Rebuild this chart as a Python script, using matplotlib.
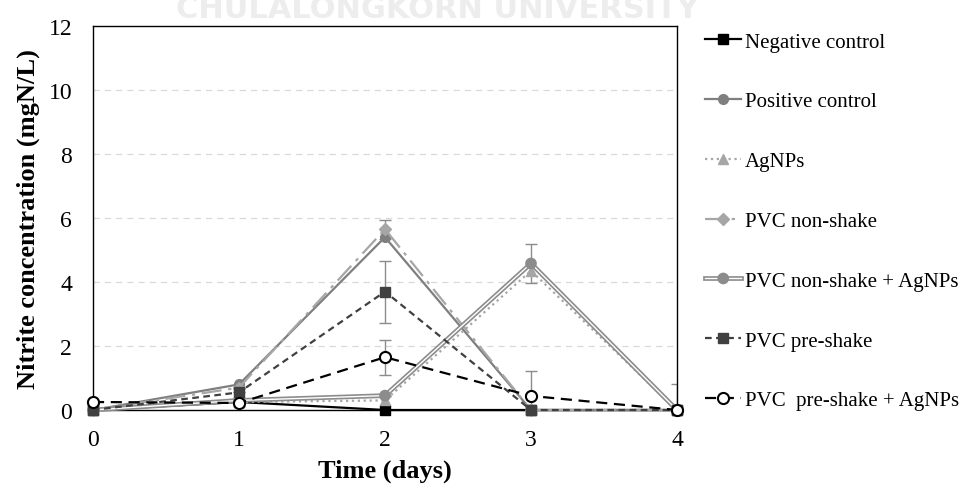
import numpy as np
import matplotlib
matplotlib.use('Agg')
import matplotlib.pyplot as plt
import matplotlib.patheffects as pe

plt.rcParams['font.family'] = ['Liberation Serif', 'DejaVu Serif']

# ---------------- data ----------------
days = [0, 1, 2, 3, 4]
labels = ['Negative control', 'Positive control', 'AgNPs', 'PVC non-shake',
          'PVC non-shake + AgNPs', 'PVC pre-shake', 'PVC  pre-shake + AgNPs']
neg_ctrl = [0, 0.25, 0, 0, 0]
pos_ctrl = [0, 0.8, 5.4, 0, 0]
agnps = [0, 0.25, 0.3, 4.35, 0]
pvc_ns = [0, 0.7, 5.65, 0, 0]
pvc_ns_ag = [0, 0.3, 0.45, 4.58, 0]
pvc_ps = [0, 0.55, 3.7, 0, 0]
pvc_ps_ag = [0.25, 0.22, 1.65, 0.44, 0]

err_pvc_ns = [0, 0, 0.3, 0, 0]
err_pvc_ns_ag = [0, 0, 0, 0.6, 0]
err_pvc_ps = [0, 0, 0.97, 0, 0]
err_pvc_ps_ag = [0, 0, 0.55, 0.78, 0.8]

fig = plt.figure(figsize=(9.64, 4.89), dpi=100)
ax = fig.add_axes([93/964, 1-411/489, (677-93)/964, (411-27)/489])

# watermark at the top, mostly cut off
fig.text(437/964, 1-18/489, 'CHULALONGKORN UNIVERSITY', ha='center', va='baseline',
         fontsize=22, fontweight='bold', color='#ededed',
         family=['DejaVu Sans'])

ax.set_xlim(0, 4)
ax.set_ylim(0, 12)
ax.set_yticks(np.arange(0, 13, 2))
ax.set_xticks(days)
for y in range(2, 12, 2):
    ax.axhline(y, color='#d9d9d9', lw=0.9, ls=(0, (5, 4)), zorder=0)

ebkw = dict(fmt='none', ecolor='#8c8c8c', elinewidth=1, capsize=4, capthick=1, zorder=2)
ax.errorbar(days, pvc_ns, yerr=err_pvc_ns, **ebkw)
ax.errorbar(days, pvc_ns_ag, yerr=err_pvc_ns_ag, **ebkw)
ax.errorbar(days, pvc_ps, yerr=err_pvc_ps, **ebkw)
ax.errorbar(days, pvc_ps_ag, yerr=err_pvc_ps_ag, **ebkw)

h = []
h += ax.plot(days, neg_ctrl, color='black', lw=1.6, marker='s', ms=7,
             clip_on=False, zorder=3)
h += ax.plot(days, pos_ctrl, color='#7f7f7f', lw=1.6, marker='o', ms=7,
             clip_on=False, zorder=3)
h += ax.plot(days, agnps, color='#a6a6a6', lw=1.6, ls=':', marker='^', ms=7,
             clip_on=False, zorder=3)
h += ax.plot(days, pvc_ns, color='#a6a6a6', lw=1.6, ls=(0, (9, 3, 1.5, 3)),
             marker='D', ms=6, clip_on=False, zorder=3)
h += ax.plot(days, pvc_ns_ag, color='white', lw=1.0, marker='o', ms=5,
             mfc='#8c8c8c', mec='#8c8c8c', clip_on=False, zorder=3,
             path_effects=[pe.Stroke(linewidth=3.4, foreground='#8c8c8c'), pe.Normal()])
h += ax.plot(days, pvc_ps, color='#404040', lw=1.6, ls=(0, (3, 2)), marker='s',
             ms=7, clip_on=False, zorder=4)
h += ax.plot(days, pvc_ps_ag, color='black', lw=1.6, ls=(0, (5, 3)), marker='o',
             ms=8, mfc='white', mec='black', mew=1.5, clip_on=False, zorder=5)

ax.tick_params(axis='both', length=0, labelsize=17)
ax.tick_params(axis='y', pad=15)
ax.tick_params(axis='x', pad=14)
for s in ax.spines.values():
    s.set_linewidth(1.0)
    s.set_color('black')

ax.set_xlabel('Time (days)', fontsize=19, fontweight='bold', labelpad=6)
ax.set_ylabel('Nitrite concentration (mgN/L)', fontsize=19, fontweight='bold', labelpad=6)

fig.legend(h, labels, loc='upper left', bbox_to_anchor=(705/964, 1-33/489),
           frameon=False, fontsize=15, handlelength=1.75, handletextpad=0.15,
           labelspacing=1.93, borderaxespad=0, borderpad=0)

fig.savefig('out.png', dpi=100)
